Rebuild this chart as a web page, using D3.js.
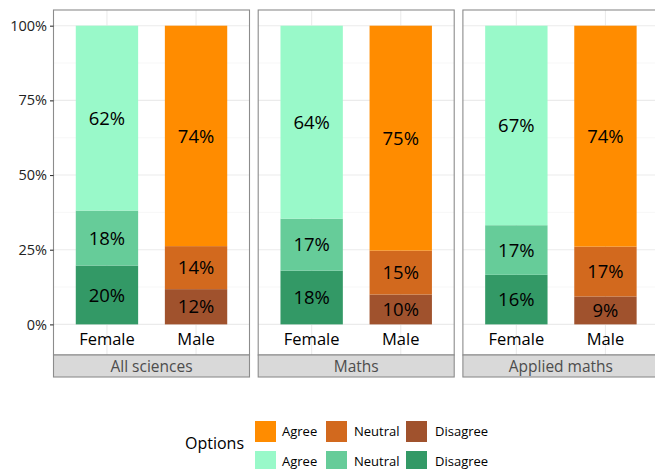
<!DOCTYPE html>
<html>
<head>
<meta charset="utf-8">
<script src="https://cdn.jsdelivr.net/npm/d3@7"></script>
<style>
  body { margin: 0; background: #fff; }
  svg { display: block; font-family: "Open Sans", "Noto Sans", sans-serif; }
</style>
</head>
<body>
<svg id="chart" width="655" height="469"></svg>
<script>
// ---- data ----
const facets = ["All sciences", "Maths", "Applied maths"];
const genders = ["Female", "Male"];
const options = ["Disagree", "Neutral", "Agree"]; // stacking order bottom -> top
// proportions per facet, [Disagree, Neutral, Agree]
const femaleValues = [
  [0.197, 0.184, 0.619],
  [0.180, 0.174, 0.646],
  [0.166, 0.166, 0.668]
];
const maleValues = [
  [0.118, 0.144, 0.738],
  [0.100, 0.147, 0.753],
  [0.0935, 0.167, 0.7395]
];
const femaleLabels = [["20%", "18%", "62%"], ["18%", "17%", "64%"], ["16%", "17%", "67%"]];
const maleLabels = [["12%", "14%", "74%"], ["10%", "15%", "75%"], ["9%", "17%", "74%"]];
const yTicks = [0, 0.25, 0.5, 0.75, 1];
const yMinor = [0.125, 0.375, 0.625, 0.875];
const femaleColors = { Agree: "#99f9c9", Neutral: "#66cc99", Disagree: "#339966" };
const maleColors = { Agree: "#ff8c00", Neutral: "#d2691e", Disagree: "#a0522d" };
const legendOptions = ["Agree", "Neutral", "Disagree"];

// ---- layout ----
const svg = d3.select("#chart");
const panelW = 196, gap = 8.7, panelLeft = 53.5;
const panelTop = 10, panelBottom = 355;
const stripH = 22;

const y = d3.scaleLinear().domain([-0.1025, 1.0525]).range([panelBottom, panelTop]);
// ggplot-like discrete axis: centers at 0.6 and 1.6 of 2.2 units
const unit = panelW / 2.2;
const xCenter = d3.scalePoint().domain(genders).range([0.6 * unit, 1.6 * unit]);
const barW = 0.7 * unit;

facets.forEach((facet, fi) => {
  const px = panelLeft + fi * (panelW + gap);
  const g = svg.append("g").attr("transform", `translate(${px},0)`);

  g.append("rect").attr("x", 0).attr("y", panelTop).attr("width", panelW)
    .attr("height", panelBottom - panelTop).attr("fill", "#fff");
  g.selectAll(".minor").data(yMinor).enter().append("line")
    .attr("x1", 0).attr("x2", panelW)
    .attr("y1", d => y(d)).attr("y2", d => y(d))
    .attr("stroke", "#f2f2f2").attr("stroke-width", 0.6);
  g.selectAll(".major").data(yTicks).enter().append("line")
    .attr("x1", 0).attr("x2", panelW)
    .attr("y1", d => y(d)).attr("y2", d => y(d))
    .attr("stroke", "#ebebeb").attr("stroke-width", 1.1);
  g.selectAll(".vmajor").data(genders).enter().append("line")
    .attr("x1", d => xCenter(d)).attr("x2", d => xCenter(d))
    .attr("y1", panelTop).attr("y2", panelBottom)
    .attr("stroke", "#ebebeb").attr("stroke-width", 1.1);

  genders.forEach(gender => {
    const vals = gender === "Female" ? femaleValues[fi] : maleValues[fi];
    const labs = gender === "Female" ? femaleLabels[fi] : maleLabels[fi];
    const cols = gender === "Female" ? femaleColors : maleColors;
    let cum = 0;
    const segs = options.map((opt, i) => {
      const s = { opt, y0: cum, y1: cum + vals[i], label: labs[i] };
      cum += vals[i];
      return s;
    });
    segs.forEach(s => { s.y0 /= cum; s.y1 /= cum; });
    const cx = xCenter(gender);
    g.selectAll(null).data(segs).enter().append("rect")
      .attr("x", cx - barW / 2).attr("width", barW)
      .attr("y", d => y(d.y1)).attr("height", d => y(d.y0) - y(d.y1))
      .attr("fill", d => cols[d.opt]);
    g.selectAll(null).data(segs).enter().append("text")
      .attr("x", cx).attr("y", d => y((d.y0 + d.y1) / 2))
      .attr("dy", "0.36em").attr("text-anchor", "middle")
      .attr("font-size", 18.5).attr("fill", "#000")
      .text(d => d.label);
    g.append("text").attr("x", cx).attr("y", y(-0.05)).attr("dy", "0.36em")
      .attr("text-anchor", "middle").attr("font-size", 16.5).attr("fill", "#000")
      .text(gender);
  });

  g.append("rect").attr("x", 0).attr("y", panelTop).attr("width", panelW)
    .attr("height", panelBottom - panelTop).attr("fill", "none")
    .attr("stroke", "#8c8c8c").attr("stroke-width", 1.1);

  g.append("rect").attr("x", 0).attr("y", panelBottom).attr("width", panelW)
    .attr("height", stripH).attr("fill", "#d9d9d9")
    .attr("stroke", "#8c8c8c").attr("stroke-width", 1.1);
  g.append("text").attr("x", panelW / 2).attr("y", panelBottom + stripH / 2)
    .attr("dy", "0.36em").attr("text-anchor", "middle")
    .attr("font-size", 15.5).attr("fill", "#4d4d4d").text(facet);
});

// y axis
const yAxis = d3.axisLeft(y).tickValues(yTicks).tickFormat(d3.format(".0%"))
  .tickSize(3.5).tickPadding(3);
const ax = svg.append("g").attr("transform", `translate(${panelLeft},0)`).call(yAxis);
ax.select(".domain").remove();
ax.selectAll(".tick line").attr("stroke", "#333").attr("stroke-width", 1.1);
ax.selectAll(".tick text").attr("font-size", 14.5).attr("fill", "#222")
  .attr("font-family", "'Open Sans', 'Noto Sans', sans-serif");

// legend
const lg = svg.append("g");
lg.append("text").attr("x", 185).attr("y", 443).attr("dy", "0.36em")
  .attr("font-size", 16).attr("fill", "#000").text("Options");
const keyX = [255, 326, 406];
const labelX = [282, 354, 435];
const rowsY = [421, 451];
const keySize = 21;
[maleColors, femaleColors].forEach((cols, ri) => {
  legendOptions.forEach((opt, ci) => {
    lg.append("rect").attr("x", keyX[ci]).attr("y", rowsY[ri])
      .attr("width", keySize).attr("height", keySize).attr("fill", cols[opt]);
    lg.append("text").attr("x", labelX[ci])
      .attr("y", rowsY[ri] + keySize / 2).attr("dy", "0.36em")
      .attr("font-size", 13).attr("fill", "#000").text(opt);
  });
});
</script>
</body>
</html>
